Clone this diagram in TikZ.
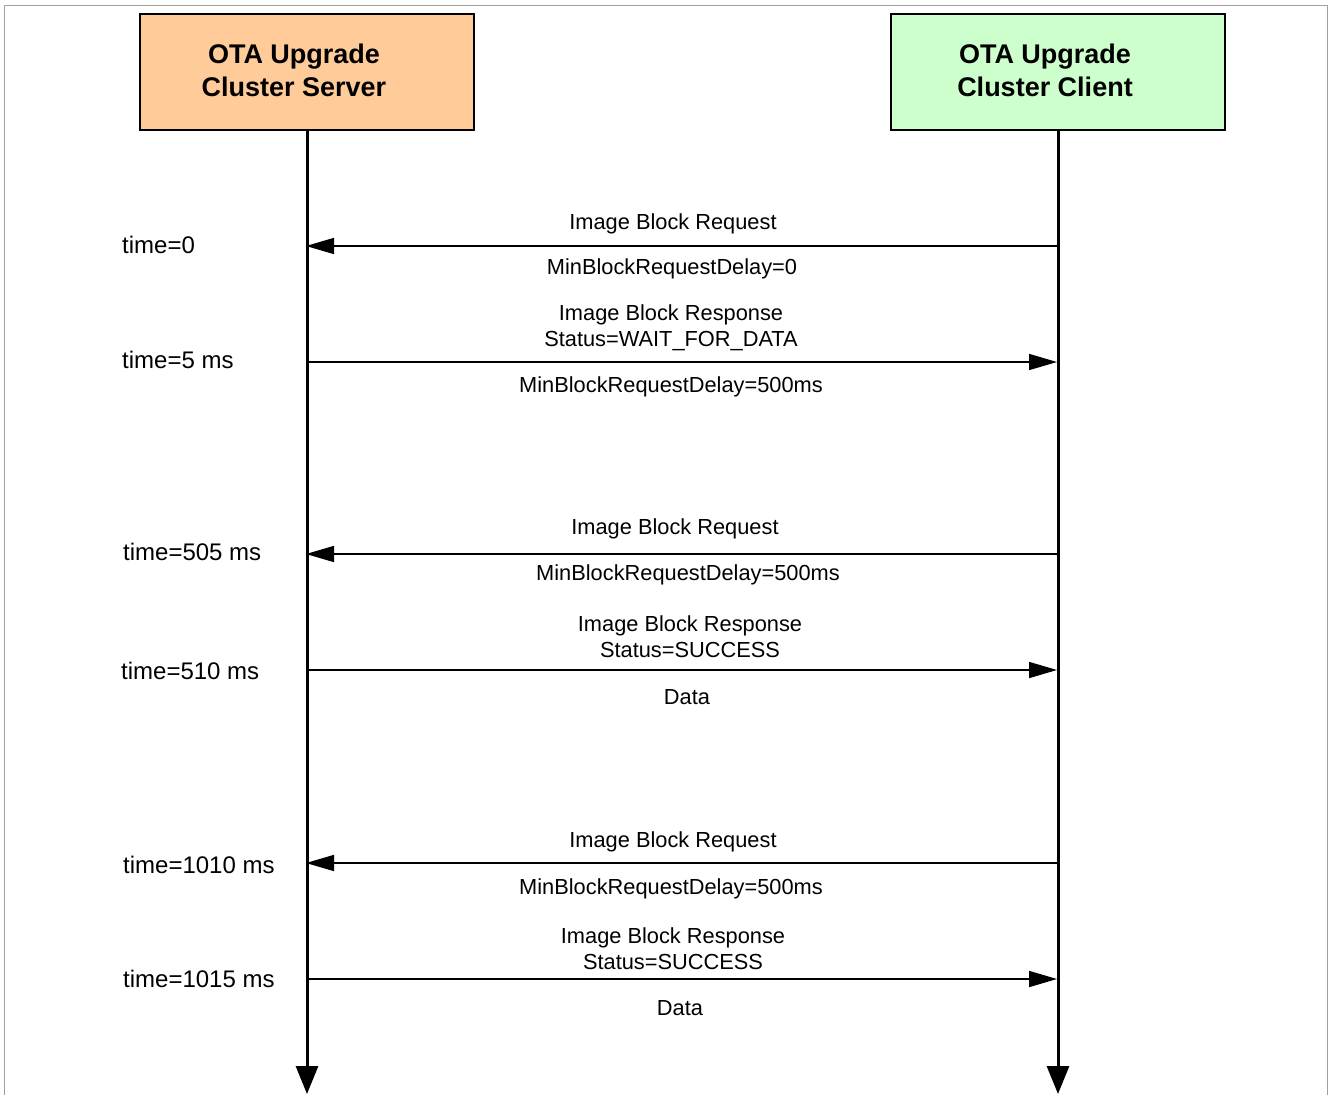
\documentclass[tikz,border=0pt]{standalone}
\usepackage{fontspec}
\setmainfont{Liberation Sans}
\usetikzlibrary{arrows.meta}
\definecolor{serverfill}{HTML}{FFCC99}
\definecolor{clientfill}{HTML}{CCFFCC}
\definecolor{framegray}{HTML}{A0A0A0}
\begin{document}
\begin{tikzpicture}[x=1pt,y=-1pt,
  actor/.style={draw=black, line width=2pt, minimum width=334pt, minimum height=116pt, inner sep=0pt},
  actortext/.style={font=\fontsize{27}{33}\selectfont\bfseries, align=center, inner sep=0pt,
    xshift=-13pt, yshift=2pt},
  lifeline/.style={line width=3pt, -{Triangle[length=28pt,width=22pt]}},
  msg/.style={line width=1.6pt, -{Triangle[length=28pt,width=16pt]}},
  lbl/.style={font=\fontsize{21.8}{26}\selectfont, align=center, inner sep=0pt},
  tlbl/.style={font=\fontsize{24}{28}\selectfont, anchor=west, inner sep=0pt}]

\useasboundingbox (0,0) rectangle (1330,1095);
% outer frame (open at the bottom)
\draw[framegray, line width=1pt] (4.5,1095) -- (4.5,5.5) -- (1327.5,5.5) -- (1327.5,1095);

% participants
\node[actor, fill=serverfill,
  label={[actortext]center:OTA Upgrade\\Cluster Server}] (srv) at (307,72) {};
\node[actor, fill=clientfill,
  label={[actortext]center:OTA Upgrade\\Cluster Client}] (cli) at (1058,72) {};

% lifeline ends
\coordinate (srvEnd) at (307,1094);
\coordinate (cliEnd) at (1058,1094);
\draw[lifeline] (srv.south) -- (srvEnd);
\draw[lifeline] (cli.south) -- (cliEnd);

% message anchor points on the lifelines
\coordinate (s1) at (306,246);  \coordinate (c1) at (1057,246);
\coordinate (s2) at (306,362);  \coordinate (c2) at (1057,362);
\coordinate (s3) at (306,554);  \coordinate (c3) at (1057,554);
\coordinate (s4) at (306,670);  \coordinate (c4) at (1057,670);
\coordinate (s5) at (306,863);  \coordinate (c5) at (1057,863);
\coordinate (s6) at (306,979);  \coordinate (c6) at (1057,979);

% messages
\draw[msg] (c1) -- (s1);
\draw[msg] (s2) -- (c2);
\draw[msg] (c3) -- (s3);
\draw[msg] (s4) -- (c4);
\draw[msg] (c5) -- (s5);
\draw[msg] (s6) -- (c6);

% message labels
\node[lbl] (m1a) at (673,224) {Image Block Request};
\node[lbl] (m1b) at (672,269) {MinBlockRequestDelay=0};
\node[lbl] (m2a) at (671,328) {Image Block Response\\Status=WAIT\_FOR\_DATA};
\node[lbl] (m2b) at (671,387) {MinBlockRequestDelay=500ms};
\node[lbl] (m3a) at (675,529) {Image Block Request};
\node[lbl] (m3b) at (688,575) {MinBlockRequestDelay=500ms};
\node[lbl] (m4a) at (690,637) {Image Block Response\\Status=SUCCESS};
\node[lbl] (m4b) at (687,697) {Data};
\node[lbl] (m5a) at (673,842) {Image Block Request};
\node[lbl] (m5b) at (671,889) {MinBlockRequestDelay=500ms};
\node[lbl] (m6a) at (673,949) {Image Block Response\\Status=SUCCESS};
\node[lbl] (m6b) at (680,1008) {Data};

% time labels
\node[tlbl] (t1) at (122,245) {time=0};
\node[tlbl] (t2) at (122,360) {time=5 ms};
\node[tlbl] (t3) at (123,552) {time=505 ms};
\node[tlbl] (t4) at (121,671) {time=510 ms};
\node[tlbl] (t5) at (123,865) {time=1010 ms};
\node[tlbl] (t6) at (123,979) {time=1015 ms};
\end{tikzpicture}
\end{document}
